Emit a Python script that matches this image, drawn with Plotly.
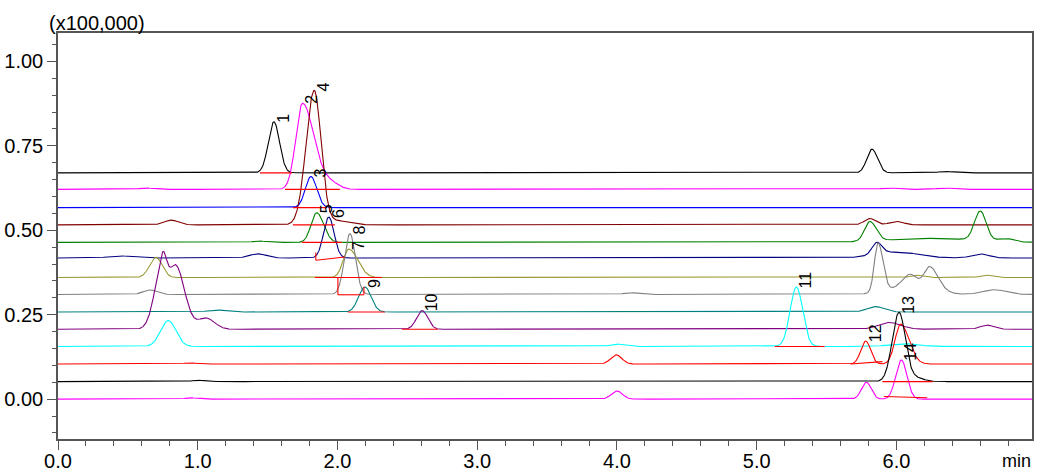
import numpy as np
import plotly.graph_objects as go

# ---------------- data ----------------
# one chromatogram per row: colour and baseline level (units of x100,000)
trace_colors = ["#000000", "#FF00FF", "#0000FF", "#800000", "#008000", "#000080", "#999933",
                "#808080", "#008080", "#800080", "#00FFFF", "#FF0000", "#000000", "#FF00FF"]
trace_baselines = [0.670, 0.621, 0.567, 0.516, 0.464, 0.418, 0.360,
                   0.310, 0.258, 0.207, 0.156, 0.104, 0.052, 0.000]

# peaks per chromatogram: (retention time min, height, sigma left, sigma right)
peaks_black_top = [(1.545, 0.151, 0.040, 0.040), (5.825, 0.070, 0.037, 0.040),
                   (6.35, 0.004, 0.05, 0.05), (0.67, 0.002, 0.05, 0.05)]
peaks_magenta_top = [(1.750, 0.255, 0.048, 0.082), (1.95, 0.018, 0.06, 0.06),
                     (0.63, 0.004, 0.05, 0.05), (5.95, 0.004, 0.06, 0.06), (6.35, 0.004, 0.06, 0.06)]
peaks_blue = [(1.810, 0.092, 0.040, 0.042)]
peaks_maroon = [(1.833, 0.397, 0.058, 0.050), (2.00, 0.012, 0.08, 0.08),
                (0.81, 0.014, 0.05, 0.05), (5.81, 0.019, 0.04, 0.04), (6.0, 0.010, 0.05, 0.05)]
peaks_green = [(1.851, 0.088, 0.040, 0.050), (5.81, 0.058, 0.038, 0.045), (6.60, 0.087, 0.042, 0.042),
               (6.25, 0.012, 0.30, 0.30), (6.78, 0.010, 0.05, 0.05), (1.44, 0.004, 0.05, 0.05)]
peaks_navy = [(1.938, 0.121, 0.038, 0.038), (0.44, 0.006, 0.08, 0.08), (1.43, 0.012, 0.06, 0.06),
              (5.86, 0.035, 0.035, 0.035), (6.0, 0.018, 0.15, 0.15), (6.6, 0.012, 0.06, 0.06)]
peaks_olive = [(0.70, 0.060, 0.045, 0.045), (2.081, 0.084, 0.040, 0.065),
               (6.14, 0.007, 0.04, 0.04), (6.64, 0.007, 0.04, 0.04)]
peaks_gray = [(0.66, 0.013, 0.05, 0.05), (2.089, 0.180, 0.039, 0.039), (4.10, 0.005, 0.05, 0.05),
              (5.868, 0.145, 0.026, 0.035), (6.096, 0.035, 0.05, 0.05), (6.24, 0.066, 0.04, 0.06),
              (6.10, 0.025, 0.15, 0.15), (6.70, 0.014, 0.08, 0.08)]
peaks_teal = [(2.196, 0.074, 0.045, 0.045), (1.13, 0.006, 0.06, 0.06), (5.85, 0.016, 0.06, 0.06)]
peaks_purple = [(0.745, 0.170, 0.055, 0.030), (0.84, 0.190, 0.060, 0.065), (1.06, 0.033, 0.060, 0.060),
                (2.606, 0.055, 0.040, 0.040), (5.95, 0.020, 0.08, 0.08), (6.65, 0.012, 0.05, 0.05)]
peaks_cyan = [(0.789, 0.0765, 0.055, 0.055), (5.284, 0.176, 0.045, 0.045),
              (4.0, 0.007, 0.05, 0.05), (6.05, 0.008, 0.10, 0.10)]
peaks_red = [(0.94, 0.003, 0.05, 0.05), (3.995, 0.027, 0.040, 0.040),
             (5.78, 0.068, 0.035, 0.035), (6.03, 0.118, 0.040, 0.060)]
peaks_black_bottom = [(1.0, 0.004, 0.04, 0.04), (6.018, 0.203, 0.048, 0.045), (6.13, 0.012, 0.06, 0.06)]
peaks_magenta_bottom = [(0.70, 0.002, 0.05, 0.05), (0.95, 0.004, 0.04, 0.04), (4.0, 0.024, 0.04, 0.04),
                        (5.785, 0.050, 0.035, 0.035), (6.035, 0.116, 0.040, 0.040)]

all_peaks = [peaks_black_top, peaks_magenta_top, peaks_blue, peaks_maroon, peaks_green, peaks_navy,
             peaks_olive, peaks_gray, peaks_teal, peaks_purple, peaks_cyan, peaks_red,
             peaks_black_bottom, peaks_magenta_bottom]

# numbered peak labels: number, chromatogram index, retention time
label_numbers = ["1", "2", "3", "4", "5", "6", "7", "8", "9", "10", "11", "12", "13", "14"]
label_trace = [0, 1, 2, 3, 4, 5, 6, 7, 8, 9, 10, 11, 12, 13]
label_times = [1.545, 1.750, 1.810, 1.833, 1.851, 1.938, 2.081, 2.089, 2.196, 2.606, 5.284, 5.78, 6.018, 6.035]

# red integration baselines: x0, y0, x1, y1
seg_x0 = [1.445, 1.624, 1.681, 1.681, 1.745, 1.845, 1.845, 1.838, 2.003, 2.003, 2.189, 2.074, 2.461, 5.129, 5.67, 5.90, 5.91]
seg_y0 = [0.670, 0.621, 0.567, 0.516, 0.464, 0.434, 0.411, 0.360, 0.359, 0.309, 0.309, 0.258, 0.207, 0.156, 0.104, 0.052, 0.008]
seg_x1 = [1.674, 2.017, 1.924, 1.981, 2.031, 1.845, 2.053, 2.318, 2.003, 2.189, 2.189, 2.339, 2.718, 5.486, 5.90, 6.26, 6.22]
seg_y1 = [0.670, 0.621, 0.567, 0.516, 0.464, 0.411, 0.421, 0.360, 0.309, 0.309, 0.333, 0.258, 0.207, 0.156, 0.111, 0.052, 0.004]

# axis ticks
x_tick_vals = [0, 1, 2, 3, 4, 5, 6]
x_tick_text = ["0.0", "1.0", "2.0", "3.0", "4.0", "5.0", "6.0"]
y_tick_vals = [0.0, 0.25, 0.5, 0.75, 1.0]
y_tick_text = ["0.00", "0.25", "0.50", "0.75", "1.00"]

# ---------------- build ----------------
time = np.linspace(0, 7, 2801)


def curve(base, peaks, t):
    y = np.full_like(t, base, dtype=float)
    for rt, h, sl, sr in peaks:
        s = np.where(t < rt, sl, sr)
        y += h * np.exp(-0.5 * ((t - rt) / s) ** 2)
    return y


fig = go.Figure()
curves = []
for color, base, pk in zip(trace_colors, trace_baselines, all_peaks):
    y = curve(base, pk, time)
    curves.append(y)
    fig.add_trace(go.Scatter(x=time, y=y, mode="lines", line=dict(color=color, width=1.1),
                             hoverinfo="skip", showlegend=False))

sx, sy = [], []
for a, b, c, d in zip(seg_x0, seg_y0, seg_x1, seg_y1):
    sx += [a, c, None]
    sy += [b, d, None]
fig.add_trace(go.Scatter(x=sx, y=sy, mode="lines", line=dict(color="#FF0000", width=1.1),
                         hoverinfo="skip", showlegend=False))

font_family = "Liberation Sans, Arial, sans-serif"
annotations = []
for num, ti, t in zip(label_numbers, label_trace, label_times):
    idx = np.argmin(np.abs(time - t))
    yv = curves[ti][max(idx - 20, 0):idx + 20].max()
    annotations.append(dict(x=t, y=yv, xref="x", yref="y", text=num, showarrow=False,
                            textangle=-90, xanchor="left", yanchor="bottom", xshift=-1, yshift=-3,
                            font=dict(family=font_family, size=16, color="black")))
annotations.append(dict(x=0, y=1, xref="paper", yref="paper", text="(x100,000)", showarrow=False,
                        xanchor="left", yanchor="bottom", xshift=-11, yshift=-3,
                        font=dict(family=font_family, size=20, color="black")))
annotations.append(dict(x=1, y=0, xref="paper", yref="paper", text="min", showarrow=False,
                        xanchor="right", yanchor="top", xshift=1, yshift=-10,
                        font=dict(family=font_family, size=18, color="black")))

axis_color = "#555555"
fig.update_layout(
    width=1038, height=470,
    margin=dict(l=58, r=6, t=33, b=31, autoexpand=False),
    paper_bgcolor="white", plot_bgcolor="white",
    annotations=annotations,
    xaxis=dict(range=[0, 6.97], tickmode="array", tickvals=x_tick_vals, ticktext=x_tick_text,
               ticks="outside", ticklen=9, tickcolor=axis_color, tickwidth=1, automargin=False,
               ticklabelstandoff=-6,
               showline=True, linecolor=axis_color, linewidth=1.5, mirror=True,
               showgrid=False, zeroline=False,
               tickfont=dict(family=font_family, size=20, color="black"),
               minor=dict(tickmode="linear", tick0=0, dtick=0.2, ticks="outside", ticklen=5,
                          tickcolor=axis_color, showgrid=False)),
    yaxis=dict(range=[-0.118, 1.084], tickmode="array", tickvals=y_tick_vals, ticktext=y_tick_text,
               ticks="outside", ticklen=9, tickcolor=axis_color, tickwidth=1, automargin=False,
               showline=True, linecolor=axis_color, linewidth=1.5, mirror=True,
               showgrid=False, zeroline=False,
               tickfont=dict(family=font_family, size=20, color="black"),
               minor=dict(tickmode="linear", tick0=0, dtick=0.05, ticks="outside", ticklen=4,
                          tickcolor=axis_color, showgrid=False)),
)

fig.write_html("out.html", config={"displayModeBar": False},
               post_script="document.body.style.margin='0';document.body.style.padding='0';")
